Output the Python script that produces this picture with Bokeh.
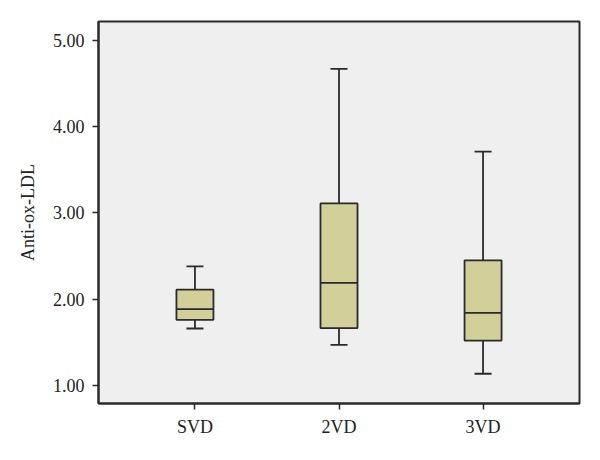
from bokeh.plotting import figure
from bokeh.models import ColumnDataSource, FactorRange, FixedTicker, NumeralTickFormatter, Range1d
from bokeh.transform import dodge
from bokeh.embed import file_html
from bokeh.resources import INLINE

groups = ["SVD", "2VD", "3VD"]
lower_whisker = [1.66, 1.47, 1.135]
q1 = [1.76, 1.665, 1.52]
median = [1.885, 2.19, 1.84]
q3 = [2.11, 3.11, 2.45]
upper_whisker = [2.38, 4.67, 3.71]
y_ticks = [1, 2, 3, 4, 5]

src = ColumnDataSource(dict(g=groups, lo=lower_whisker, q1=q1, med=median, q3=q3, hi=upper_whisker))

FONT = "Liberation Serif"
EDGE = "#2a2a2a"

p = figure(width=592, height=452, output_backend="svg", toolbar_location=None,
           x_range=FactorRange(factors=groups, range_padding=0.113),
           y_range=Range1d(0.79, 5.22),
           min_border_left=98, min_border_right=13, min_border_top=21, min_border_bottom=49)

p.background_fill_color = "#efefef"
p.border_fill_color = "white"
p.outline_line_color = EDGE
p.outline_line_width = 2
p.xgrid.visible = False
p.ygrid.visible = False

# whisker stems
p.segment(x0="g", y0="q3", x1="g", y1="hi", source=src, line_color=EDGE, line_width=1.8)
p.segment(x0="g", y0="lo", x1="g", y1="q1", source=src, line_color=EDGE, line_width=1.8)
# caps
cap = 0.059
p.segment(x0=dodge("g", -cap, range=p.x_range), y0="hi", x1=dodge("g", cap, range=p.x_range), y1="hi",
          source=src, line_color=EDGE, line_width=1.8)
p.segment(x0=dodge("g", -cap, range=p.x_range), y0="lo", x1=dodge("g", cap, range=p.x_range), y1="lo",
          source=src, line_color=EDGE, line_width=1.8)
# boxes
bw = 0.257
p.vbar(x="g", width=bw, bottom="q1", top="q3", source=src, fill_color="#d3cf98",
       line_color=EDGE, line_width=1.8)
# medians
p.segment(x0=dodge("g", -bw / 2, range=p.x_range), y0="med", x1=dodge("g", bw / 2, range=p.x_range), y1="med",
          source=src, line_color=EDGE, line_width=1.8)

p.yaxis.ticker = FixedTicker(ticks=y_ticks)
p.yaxis.formatter = NumeralTickFormatter(format="0.00")
p.yaxis.axis_label = "Anti-ox-LDL"

for ax in (p.xaxis[0], p.yaxis[0]):
    ax.axis_line_color = EDGE
    ax.axis_line_width = 2
    ax.major_tick_line_color = EDGE
    ax.major_tick_line_width = 1.5
    ax.major_tick_in = 0
    ax.major_tick_out = 6
    ax.minor_tick_line_color = None
    ax.major_label_text_font = FONT
    ax.major_label_text_font_size = "18px"
    ax.major_label_text_color = "#222222"
    ax.axis_label_text_font = FONT
    ax.axis_label_text_font_size = "18px"
    ax.axis_label_text_font_style = "normal"
    ax.axis_label_text_color = "#222222"

p.xaxis.major_label_standoff = 7
p.yaxis.major_label_standoff = 8
p.yaxis.axis_label_standoff = 12

open("out.html", "w").write(file_html(p, INLINE))
